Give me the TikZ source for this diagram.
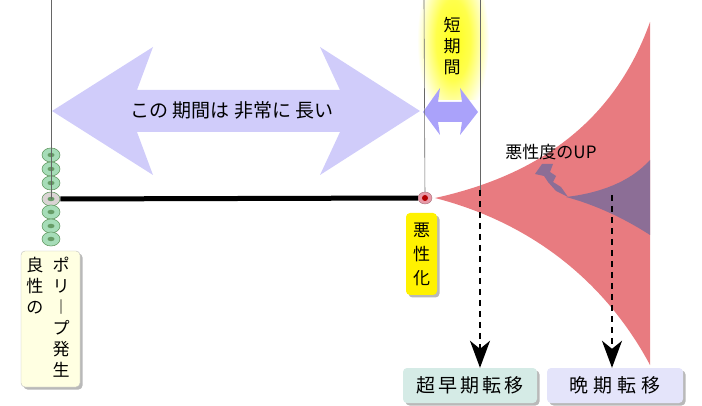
\documentclass[tikz,border=0pt]{standalone}
\usepackage{fontspec}
\setmainfont{Noto Sans CJK JP}
\usetikzlibrary{arrows.meta,shapes.geometric,shadows}
\definecolor{lilac}{HTML}{D0CCFA}
\definecolor{violetarrow}{HTML}{AAA2FA}
\definecolor{horn}{HTML}{E87B80}
\definecolor{hornpurple}{HTML}{8C6E96}
\definecolor{cellgreen}{HTML}{A6DDB8}
\definecolor{cellgray}{HTML}{DAD4D4}
\definecolor{malpink}{HTML}{E89AA8}
\definecolor{boxteal}{HTML}{D5EBE6}
\definecolor{boxlav}{HTML}{E4E4FA}
\definecolor{paleyellow}{HTML}{FFFFE2}
\pgfdeclareradialshading{glow}{\pgfpoint{0bp}{0bp}}{color(0bp)=(yellow!90); color(12bp)=(yellow!70); color(25bp)=(white); color(50bp)=(white)}
\begin{document}
\begin{tikzpicture}[line join=round, line cap=round, x=1pt, y=-1pt,
	guide/.style={draw=black!60, line width=0.6pt},
	cell/.style={ellipse, draw=green!35!black!60, line width=0.6pt, minimum width=18pt, minimum height=14pt, inner sep=0pt,
		path picture={\fill[green!35!black!60] (path picture bounding box.center) ellipse (3.5pt and 2.2pt);}},
	vtext/.style={align=center, font=\fontsize{17}{21}\selectfont, inner sep=0pt},
	tagbox/.style={rounded corners=4pt, inner sep=0pt, drop shadow={shadow xshift=2.5pt, shadow yshift=-2.5pt, fill=black!55}},
	metbox/.style={tagbox, minimum height=35pt, font=\fontsize{19}{21}\selectfont},
	metarrow/.style={line width=2pt, line cap=butt, dash pattern=on 6pt off 5pt, -{Stealth[length=27pt, width=20pt, inset=8pt]}}]
	\useasboundingbox (0,0) rectangle (702,406);
	\begin{scope}
		\clip (400,0) rectangle (500,100);
		\shade[shading=glow] (453,40) ellipse (36 and 84);
	\end{scope}
	\fill[horn] (435,198) .. controls (540,175) and (615,120) .. (650,22) -- (650,365) .. controls (610,290) and (540,225) .. (435,198) -- cycle;
	\fill[hornpurple] (566,197) .. controls (600,193) and (630,182) .. (650,160) -- (650,235) .. controls (630,222) and (600,206) .. (566,197) -- cycle;
	\fill[hornpurple] (535,174) -- (542,164) -- (553,164) -- (550,172) -- (556,176) -- (553,182) -- (561,187) -- (568,197) -- (556,191) -- (548,182) -- (544,176) -- cycle;
	\fill[lilac] (52,111) -- (153,47) -- (137,90) -- (340,90) -- (320,47) -- (420,111) -- (320,175) -- (340,132) -- (137,132) -- (153,175) -- cycle;
	\fill[violetarrow] (423,112) -- (440,88) -- (438,102) -- (462,102) -- (460,88) -- (478,112) -- (460,135) -- (462,122) -- (438,122) -- (440,135) -- cycle;
	\node[font=\fontsize{19}{21}\selectfont] (longtxt) at (232,110) {この 期間は 非常に 長い};
	\node[vtext] (shorttxt) at (452,46) {短\\期\\間};
	\node[font=\fontsize{17}{19}\selectfont] (uptxt) at (551,152) {悪性度のUP};
	\foreach \y/\c [count=\i] in {155/cellgreen,169/cellgreen,183/cellgreen,199/cellgray,212/cellgreen,226/cellgreen,239/cellgreen}
	\node[cell, fill=\c] (c\i) at (51,\y) {};
	\node[ellipse, fill=malpink, draw=malpink!70!black, minimum width=14pt, minimum height=12pt, inner sep=0pt,
		path picture={\fill[red!70!black] (path picture bounding box.center) circle (3pt);}] (mal) at (425,198) {};
	\draw[line width=5pt, line cap=butt] (c4) -- (mal);
	\coordinate (g1) at (51,0);
	\coordinate (g2) at (424,0);
	\coordinate (g3) at (480,0);
	\coordinate (e1) at (480,195);
	\coordinate (e2) at (612,195);
	\draw[guide] (g1) -- (c4.center);
	\draw[guide] (g2) -- (mal);
	\draw[guide] (g3) -- (e1);
	\node[tagbox, fill=yellow, align=center, font=\fontsize{17}{24}\selectfont, minimum width=31pt, minimum height=82pt] (maltag) at (421.5,254) {悪\\性\\化};
	\node[tagbox, fill=paleyellow, draw=black!25, minimum width=59pt, minimum height=136pt] (benign) at (50.5,319) {};
	\node[vtext, anchor=north] (benignA) at (61,257) {ポ\\リ\\︱\\プ\\発\\生};
	\node[vtext, anchor=north] (benignB) at (35,257) {良\\性\\の};
	\node[metbox, fill=boxteal, minimum width=134pt] (early) at (470,385.5) {超\hspace{3pt}早\hspace{3pt}期\hspace{3pt}転\hspace{3pt}移};
	\node[metbox, fill=boxlav, minimum width=136pt] (late) at (615,385.5) {晩\hspace{5pt}期\hspace{5pt}転\hspace{5pt}移};
	\draw[metarrow] ([yshift=5pt]e1) -- (e1 |- early.north);
	\draw[metarrow] (e2) -- (e2 |- late.north);
\end{tikzpicture}
\end{document}
